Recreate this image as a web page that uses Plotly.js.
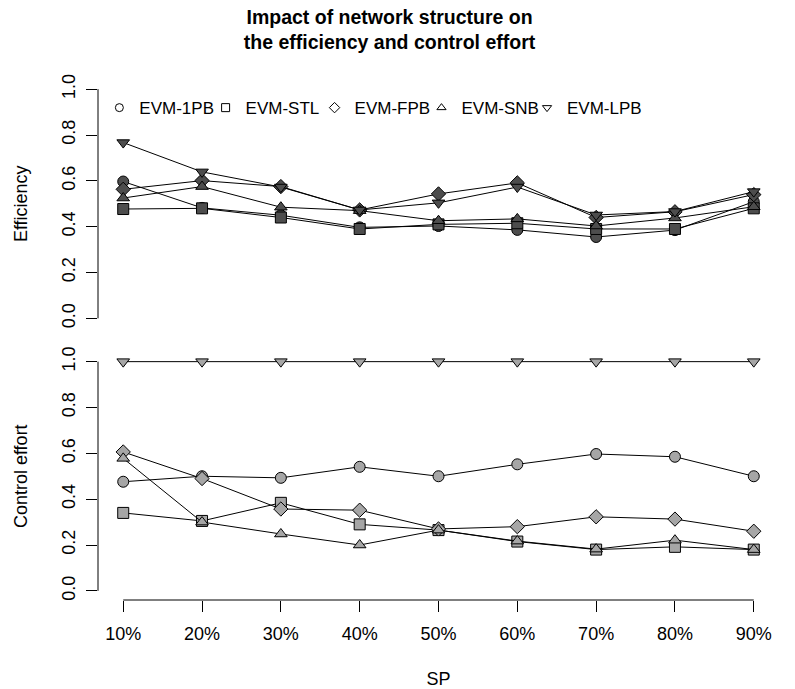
<!DOCTYPE html>
<html>
<head>
<meta charset="utf-8">
<script src="https://cdn.plot.ly/plotly-3.0.1.min.js"></script>
<style>html,body{margin:0;padding:0;background:#fff;}#chart{width:795px;height:689px;}</style>
</head>
<body>
<div id="chart"></div>
<script>
// ---- data ----
const categories = ['10%','20%','30%','40%','50%','60%','70%','80%','90%'];
const seriesNames = ['EVM-1PB','EVM-STL','EVM-FPB','EVM-SNB','EVM-LPB'];
const seriesSymbols = ['circle','square','diamond','triangle-up','triangle-down'];

// Efficiency (top panel)
const eff1PB = [0.597,0.482,0.45,0.397,0.403,0.386,0.355,0.385,0.509];
const effSTL = [0.477,0.48,0.44,0.39,0.41,0.415,0.39,0.39,0.48];
const effFPB = [0.563,0.601,0.575,0.473,0.543,0.591,0.44,0.465,0.54];
const effSNB = [0.525,0.575,0.485,0.47,0.426,0.434,0.403,0.438,0.487];
const effLPB = [0.767,0.639,0.573,0.473,0.504,0.573,0.451,0.466,0.553];

// Control effort (bottom panel)
const ce1PB = [0.476,0.5,0.493,0.541,0.5,0.552,0.597,0.585,0.5];
const ceSTL = [0.34,0.305,0.384,0.29,0.265,0.215,0.18,0.192,0.18];
const ceFPB = [0.606,0.49,0.357,0.352,0.27,0.28,0.323,0.313,0.26];
const ceSNB = [0.578,0.3,0.248,0.2,0.265,0.217,0.182,0.221,0.18];
const ceLPB = [1.0,1.0,1.0,1.0,1.0,1.0,1.0,1.0,1.0];

const yTicks = [0,0.2,0.4,0.6,0.8,1.0];
// ---- end data ----

const effData = [eff1PB, effSTL, effFPB, effSNB, effLPB];
const ceData = [ce1PB, ceSTL, ceFPB, ceSNB, ceLPB];
const FONT = 'Liberation Sans, Arial, Helvetica, sans-serif';
const FS = 18;
const legendX = [0.002, 0.158, 0.318, 0.475, 0.630];
const traces = [];

effData.forEach((vals, i) => {
  traces.push({
    x: categories, y: vals, xaxis: 'x', yaxis: 'y2', type: 'scatter', mode: 'lines+markers',
    name: seriesNames[i], showlegend: false,
    line: {color: '#000', width: 1},
    marker: {symbol: seriesSymbols[i], size: 11, color: '#4d4d4d', line: {color: '#000', width: 1}}
  });
});
ceData.forEach((vals, i) => {
  traces.push({
    x: categories, y: vals, xaxis: 'x', yaxis: 'y', type: 'scatter', mode: 'lines+markers',
    name: seriesNames[i], showlegend: false,
    line: {color: '#000', width: 1},
    marker: {symbol: seriesSymbols[i], size: 11, color: '#a6a6a6', line: {color: '#000', width: 1}}
  });
});
// legend keys (open symbols), one legend box per key
seriesNames.forEach((nm, i) => {
  traces.push({
    x: [null], y: [null], xaxis: 'x', yaxis: 'y2', type: 'scatter', mode: 'markers',
    name: nm, showlegend: true, legend: i === 0 ? 'legend' : 'legend' + (i + 1),
    marker: {symbol: seriesSymbols[i], size: 8, color: '#fff', line: {color: '#000', width: 1}}
  });
});

const yAxisCommon = {
  range: [-0.04, 1.04], tickvals: yTicks, ticktext: yTicks.map(v => v.toFixed(1)),
  ticks: 'outside', ticklen: 11, tickcolor: '#000', tickwidth: 1, tickangle: -90,
  showgrid: false, zeroline: false, showline: false,
  tickfont: {family: FONT, size: FS, color: '#000'}, ticklabelstandoff: 4
};

const layout = {
  width: 795, height: 689,
  paper_bgcolor: '#fff', plot_bgcolor: '#fff',
  margin: {l: 98, r: 16, t: 80, b: 89},
  font: {family: FONT, color: '#000'},
  title: {
    text: 'Impact of network structure on<br>the efficiency and control effort',
    font: {family: FONT, size: 19.5, color: '#000', weight: 'bold'},
    x: 0.49, xref: 'container', xanchor: 'center', y: 0.965, yref: 'container', yanchor: 'top'
  },
  xaxis: {
    anchor: 'y', type: 'category', range: [-0.32, 8.32],
    ticks: 'outside', ticklen: 11, tickcolor: '#000', tickwidth: 1,
    showgrid: false, zeroline: false, showline: false,
    tickfont: {family: FONT, size: FS, color: '#000'}, ticklabelstandoff: 6,
    title: {text: 'SP', font: {family: FONT, size: FS, color: '#000'}, standoff: 38}
  },
  yaxis: Object.assign({}, yAxisCommon, {
    domain: [0, 0.476], anchor: 'x',
    title: {text: 'Control effort', font: {family: FONT, size: FS, color: '#000'}, standoff: 26}
  }),
  yaxis2: Object.assign({}, yAxisCommon, {
    domain: [0.524, 1], anchor: 'x',
    title: {text: 'Efficiency', font: {family: FONT, size: FS, color: '#000'}, standoff: 26}
  }),
  shapes: [
    {type: 'line', xref: 'x', yref: 'y domain', x0: categories[0], x1: categories[categories.length - 1], y0: 0, y1: 0, line: {color: '#000', width: 1}},
    {type: 'line', xref: 'x domain', yref: 'y', x0: 0, x1: 0, y0: yTicks[0], y1: yTicks[yTicks.length - 1], line: {color: '#000', width: 1}},
    {type: 'line', xref: 'x domain', yref: 'y2', x0: 0, x1: 0, y0: yTicks[0], y1: yTicks[yTicks.length - 1], line: {color: '#000', width: 1}}
  ]
};
legendX.forEach((lx, i) => {
  layout[i === 0 ? 'legend' : 'legend' + (i + 1)] = {
    orientation: 'h', x: lx, xanchor: 'left', y: 0.946, yanchor: 'middle',
    bgcolor: 'rgba(0,0,0,0)', borderwidth: 0,
    font: {family: FONT, size: 17, color: '#000'}
  };
});

Plotly.newPlot('chart', traces, layout, {displayModeBar: false, staticPlot: true});
</script>
</body>
</html>
